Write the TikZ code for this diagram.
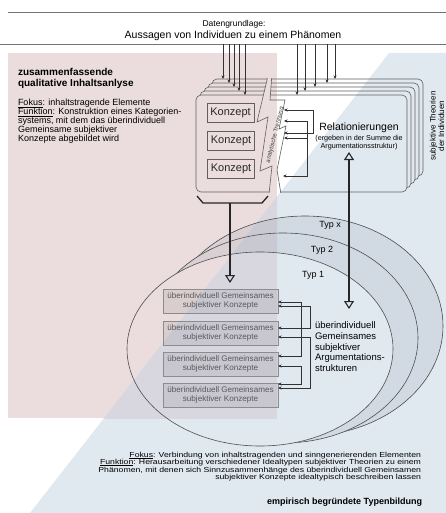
\documentclass[tikz,border=0pt]{standalone}
\usepackage{fontspec}
\setmainfont{Liberation Sans}
\newfontfamily\widesans[FakeStretch=1.19]{Liberation Sans}
\usetikzlibrary{arrows.meta}
\definecolor{pinkc}{RGB}{235,221,222}
\definecolor{bluec}{RGB}{225,233,240}
\definecolor{overc}{RGB}{216,214,223}
\definecolor{linec}{RGB}{50,50,50}
\definecolor{stackc}{RGB}{95,95,95}
\definecolor{crc}{RGB}{70,90,120}
\newcommand\myul[1]{\setbox0\hbox{#1}\rlap{\vrule height -0.75pt depth 1.25pt width \wd0}\box0}
\newcommand\drawbg{%
  \fill[white] (0,0) rectangle (446,513);
  \fill[pinkc] (8,53) rectangle (277,418);
  \fill[bluec] (389,53) -- (446,53) -- (446,513) -- (30,513) -- cycle;
  \begin{scope}
    \clip (8,53) rectangle (277,418);
    \fill[overc] (389,53) -- (446,53) -- (446,513) -- (30,513) -- cycle;
  \end{scope}}
\newcommand\clipleft{\clip (270,60) -- (267,80) -- (257,122) -- (268,117) -- (260,171) -- (272,166) -- (269,194) -- (269,230) -- (0,230) -- (0,60) -- cycle;}
\newcommand\clipright{\clip (273,60) -- (270,100) -- (285,100) -- (279,129) -- (286,126) -- (277,170) -- (281,194) -- (281,230) -- (446,230) -- (446,60) -- cycle;}
\begin{document}
\begin{tikzpicture}[x=1pt,y=-1pt,
  every node/.style={inner sep=0pt, outer sep=0pt},
  stackline/.style={draw=stackc, line width=0.6pt},
  konz/.style={draw=stackc, line width=0.6pt, minimum width=47pt, minimum height=19pt, font=\fontsize{11}{11}\selectfont, text=black!85},
  ubox/.style={draw=black!45, line width=0.6pt, fill=black, fill opacity=0.07, text opacity=1, minimum width=115pt, minimum height=24pt, align=center, font=\fontsize{8.1}{9}\selectfont, text=black!65},
  sarrow/.style={draw=linec, line width=0.5pt, -{Stealth[length=3.5pt,width=3pt]}},
  bra/.style={draw=linec, line width=0.5pt, {Stealth[length=3.5pt,width=3pt]}-{Stealth[length=3.5pt,width=3pt]}},
  big/.style={draw=black!85, line width=1.3pt},
  ell/.style={draw=black!70, line width=0.6pt},
  crescent/.style={fill=crc, fill opacity=0.1},
  lt/.style={anchor=base west, font=\fontsize{9}{9}\selectfont},
  bt/.style={anchor=base east, font=\widesans\fontsize{7.3}{7.3}\selectfont},
  rt/.style={anchor=base west, font=\fontsize{9.5}{9.5}\selectfont},
]
\useasboundingbox (0,0) rectangle (446,513);
\drawbg

% header
\draw[draw=black!55, line width=0.8pt] (8,12) -- (446,12);
\draw[draw=black!55, line width=0.8pt] (0,44) -- (446,44);
\node[font=\fontsize{8.5}{8.5}\selectfont] (dg) at (234,24) {Datengrundlage:};
\node[font=\fontsize{10.5}{10.5}\selectfont] (aus) at (233,36) {Aussagen von Individuen zu einem Phänomen};

% left text
\node[lt, font=\fontsize{10}{10}\selectfont\bfseries] (t1) at (18,76) {zusammenfassende};
\node[lt, font=\fontsize{10}{10}\selectfont\bfseries] (t2) at (18,87) {qualitative Inhaltsanlyse};
\node[lt] (l1) at (18,106) {\myul{Fokus}: inhaltstragende Elemente};
\node[lt] (l2) at (18,115) {\myul{Funktion}: Konstruktion eines Kategorien-};
\node[lt] (l3) at (18,124) {systems, mit dem das überindividuell};
\node[lt] (l4) at (18,133) {Gemeinsame subjektiver};
\node[lt] (l5) at (18,142) {Konzepte abgebildet wird};

% stack of subjective theories, torn apart
\foreach \k in {4,3,2,1,0} {
  \begin{scope}
    \clipleft
    \begin{scope}
      \clip[rounded corners=5] (196+4*\k,95-4*\k) rectangle (407+4*\k,192-4*\k);
      \drawbg
    \end{scope}
    \draw[stackline, rounded corners=5] (196+4*\k,95-4*\k) rectangle (407+4*\k,192-4*\k);
  \end{scope}
  \begin{scope}
    \clipright
    \begin{scope}
      \clip[rounded corners=5] (196+4*\k,95-4*\k) rectangle (407+4*\k,192-4*\k);
      \drawbg
    \end{scope}
    \draw[stackline, rounded corners=5] (196+4*\k,95-4*\k) rectangle (407+4*\k,192-4*\k);
  \end{scope}
}
\begin{scope}
  \clip (196,79) rectangle (424,192);
  \draw[stackline] (270,60) -- (267,80) -- (257,122) -- (268,117) -- (260,171) -- (272,166) -- (269,194);
  \draw[stackline] (273,60) -- (270,100) -- (285,100) -- (279,129) -- (286,126) -- (277,170) -- (281,194);
\end{scope}

\node[rotate=76, font=\fontsize{6}{6}\selectfont, text=black!75] (trenn) at (275,135) {analytische Trennung};

\node[konz] (k1) at (230.5,112.5) {Konzept};
\node[konz] (k2) at (231,141) {Konzept};
\node[konz] (k3) at (231,169) {Konzept};

\node[font=\fontsize{10.5}{10.5}\selectfont] (rel) at (359,128) {Relationierungen};
\node[font=\fontsize{7.2}{7.2}\selectfont] (rs1) at (359,139) {(ergeben in der Summe die};
\node[font=\fontsize{7.2}{7.2}\selectfont] (rs2) at (359,147) {Argumentationsstruktur)};

\node[rotate=90, align=center, font=\fontsize{8}{8.5}\selectfont] (subj) at (437,126) {subjektive Theorien\\der Individuen};

% data arrows
\foreach \x/\y in {223/79,229/83,234/87,239/91,245/95,297/95,305/91,315/87,327/83,335/79} {
  \coordinate (ds\x) at (\x,44);
  \coordinate (de\x) at (\x,\y);
  \draw[sarrow] (ds\x) -- (de\x);
}

% relation arrows
\coordinate (r1) at (284,110);
\coordinate (r2) at (284,121);
\coordinate (r3) at (284,133);
\coordinate (r4) at (284,138);
\coordinate (r5) at (283,176);
\draw[bra] (r1) -- ++(29,0) |- (r3);
\draw[bra] (r2) -- ++(23,0) |- (r5);
\draw[sarrow] ([xshift=23pt]r4) -- (r4);

% ellipses
\fill[crescent] (305,326) ellipse [x radius=138, y radius=110];
\draw[ell] (305,326) ellipse [x radius=138, y radius=110];
\begin{scope}
  \clip (283,338) ellipse [x radius=135, y radius=105];
  \drawbg
  \fill[crescent] (0,0) rectangle (446,513);
\end{scope}
\draw[ell] (283,338) ellipse [x radius=135, y radius=105];
\begin{scope}
  \clip (260,349) ellipse [x radius=133, y radius=97];
  \drawbg
\end{scope}
\draw[ell] (260,349) ellipse [x radius=133, y radius=97];

\node[font=\fontsize{9}{9}\selectfont] (tx) at (330,225) {Typ x};
\node[font=\fontsize{9}{9}\selectfont] (t2x) at (322,250) {Typ 2};
\node[font=\fontsize{9}{9}\selectfont] (t1x) at (313,275) {Typ 1};

\node[ubox] (u1) at (220.5,301) {überindividuell Gemeinsames\\subjektiver Konzepte};
\node[ubox] (u2) at (220.5,333) {überindividuell Gemeinsames\\subjektiver Konzepte};
\node[ubox] (u3) at (220.5,364) {überindividuell Gemeinsames\\subjektiver Konzepte};
\node[ubox] (u4) at (220.5,395) {überindividuell Gemeinsames\\subjektiver Konzepte};

\draw[bra] ([yshift=-1pt]u1.east) -- ++(23,0) |- ([yshift=8pt]u3.east);
\draw[bra] ([yshift=-5pt]u1.east) -- ++(32,0) |- ([yshift=5pt]u2.east);
\draw[bra] ([yshift=-4pt]u2.east) -- ++(32,0) |- ([yshift=7pt]u4.east);
\draw[bra] ([yshift=-2pt]u3.east) -- ++(23,0) |- ([yshift=11pt]u4.east);

\node[rt] (a1) at (315,328.5) {überindividuell};
\node[rt] (a2) at (315,339) {Gemeinsames};
\node[rt] (a3) at (315,350) {subjektiver};
\node[rt] (a4) at (315,360.5) {Argumentations-};
\node[rt] (a5) at (315,371.5) {strukturen};

% bracket under Konzept part and big arrows
\coordinate (bl1) at (197,196);
\coordinate (bl2) at (203,203);
\coordinate (bl3) at (262,203);
\coordinate (bl4) at (268,196);
\coordinate (bm) at (230,203);
\coordinate (ltip) at (230,283);
\draw[big] (bl1) -- (bl2) -- (bl3) -- (bl4);
\draw[big, -{Triangle[open, length=8pt, width=10pt, line width=1.1pt]}] (bm) -- (ltip);
\coordinate (reltip) at (349,152);
\coordinate (typtip) at (349,309);
\draw[big, {Triangle[open, length=8pt, width=10pt, line width=1.1pt]}-{Triangle[open, length=8pt, width=10pt, line width=1.1pt]}] (reltip) -- (typtip);

% bottom text
\node[bt] (b1) at (421,457.5) {\myul{Fokus}: Verbindung von inhaltstragenden und sinngenerierenden Elementen};
\node[bt] (b2) at (421,464.7) {\myul{Funktion}: Herausarbeitung verschiedener Idealtypen subjektiver Theorien zu einem};
\node[bt] (b3) at (421,472) {Phänomen, mit denen sich Sinnzusammenhänge des überindividuell Gemeinsamen};
\node[bt] (b4) at (421,479.2) {subjektiver Konzepte idealtypisch beschreiben lassen};
\node[anchor=base east, font=\fontsize{9}{9}\selectfont\bfseries] (emp) at (422,504) {empirisch begründete Typenbildung};
\end{tikzpicture}
\end{document}
